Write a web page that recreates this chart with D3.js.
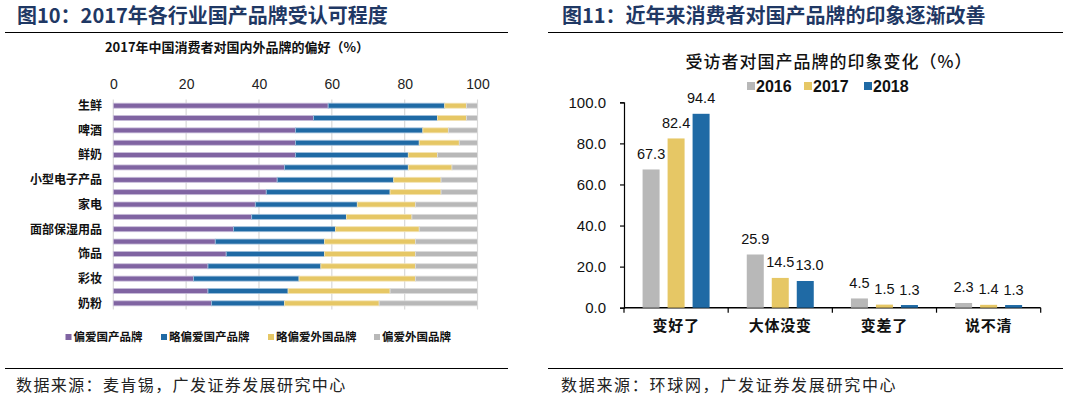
<!DOCTYPE html>
<html><head><meta charset="utf-8">
<script src="https://cdn.jsdelivr.net/npm/d3@7"></script>
<style>
body{margin:0;background:#fff;}
svg{display:block;}
</style></head>
<body>
<svg id="c" width="1069" height="397"></svg>
<script>
// ---- Left chart data ----
const rowLabels = ["生鲜","","啤酒","","鲜奶","","小型电子产品","","家电","","面部保湿用品","","饰品","","彩妆","","奶粉"];
const favorDomestic  = [59,55,50,50,50,47,45,42,39,38,33,28,31,26,22,26,27];
const slightDomestic = [32,34,35,34,31,34,32,34,28,26,28,30,27,31,29,22,20];
const slightForeign  = [6,8,7,11,8,12,13,14,16,18,23,25,25,26,32,28,26];
const favorForeign   = [3,3,8,5,11,7,10,10,17,18,16,17,17,17,17,24,27];
const leftSeriesNames = ["偏爱国产品牌","略偏爱国产品牌","略偏爱外国品牌","偏爱外国品牌"];
const leftTicks = [0,20,40,60,80,100];

// ---- Right chart data ----
const impressionCats = ["变好了","大体没变","变差了","说不清"];
const years = ["2016","2017","2018"];
const v2016 = [67.3,25.9,4.5,2.3];
const v2017 = [82.4,14.5,1.5,1.4];
const v2018 = [94.4,13.0,1.3,1.3];
const rightTicks = [0,20,40,60,80,100];

const leftColors = ["#8064A2","#1F6AA5","#E6C765","#B8B8B8"];
const leftStroke = ["#C9BEDA","#9FBEDA","#F3E3B4","#DCDCDC"];
const yearColors = ["#B8B8B8","#E6C765","#1F6AA5"];

const svg = d3.select("#c");
const CJK = "'Noto Sans CJK SC','Noto Sans',sans-serif";
const ARIAL = "'Liberation Sans',Arial,sans-serif";
const navy = "#1F3864";

// ---- Headers ----
svg.append("text").attr("x",17).attr("y",23).attr("font-family",CJK).attr("font-weight",700)
  .attr("font-size",20).attr("fill",navy).text("图10：2017年各行业国产品牌受认可程度");
svg.append("text").attr("x",562).attr("y",23).attr("font-family",CJK).attr("font-weight",700)
  .attr("font-size",20).attr("fill",navy).text("图11：近年来消费者对国产品牌的印象逐渐改善");
[[5,508],[548,1063]].forEach(([a,b])=>{
  svg.append("line").attr("x1",a).attr("x2",b).attr("y1",32.5).attr("y2",32.5).attr("stroke","#000").attr("stroke-width",1);
  svg.append("line").attr("x1",a).attr("x2",b).attr("y1",368.5).attr("y2",368.5).attr("stroke","#000").attr("stroke-width",1);
});
svg.append("text").attr("x",16).attr("y",391).attr("font-family",CJK).attr("font-size",16)
  .attr("letter-spacing",1.4).attr("fill","#222").text("数据来源：麦肯锡，广发证券发展研究中心");
svg.append("text").attr("x",561).attr("y",391).attr("font-family",CJK).attr("font-size",16)
  .attr("letter-spacing",1.7).attr("fill","#222").text("数据来源：环球网，广发证券发展研究中心");

// ---- Left chart ----
const L = svg.append("g");
L.append("text").attr("x",237).attr("y",52).attr("text-anchor","middle").attr("font-family",CJK)
  .attr("font-weight",700).attr("font-size",13).attr("fill","#111").text("2017年中国消费者对国内外品牌的偏好（%）");

const x = d3.scaleLinear().domain([0,100]).range([113.3,477.5]);
const y = d3.scaleBand().domain(d3.range(rowLabels.length)).range([99.5,309.5]);

// gridlines
L.append("g").selectAll("line").data(leftTicks).join("line")
  .attr("x1",d=>x(d)).attr("x2",d=>x(d)).attr("y1",y.range()[0]).attr("y2",y.range()[1])
  .attr("stroke","#D9D9D9").attr("stroke-width",1.2);

// top axis labels
const topAxis = d3.axisTop(x).tickValues(leftTicks).tickSize(0).tickPadding(0);
const ta = L.append("g").attr("transform","translate(0,89)").call(topAxis);
ta.select(".domain").remove();
ta.selectAll("text").attr("font-family",ARIAL).attr("font-size",14).attr("fill","#222");

// stacked bars
const rows = rowLabels.map((lab,i)=>({i, vals:[favorDomestic[i],slightDomestic[i],slightForeign[i],favorForeign[i]]}));
const keys = [0,1,2,3];
const stack = d3.stack().keys(keys).value((d,k)=>d.vals[k]);
const stacked = stack(rows);
const barH = 5;
L.append("g").selectAll("g").data(stacked).join("g")
  .attr("fill",(d,k)=>leftColors[k]).attr("stroke",(d,k)=>leftStroke[k])
  .selectAll("rect").data(d=>d).join("rect")
  .attr("x",d=>x(d[0])).attr("width",d=>x(d[1])-x(d[0]))
  .attr("y",d=>y(d.data.i)+y.bandwidth()/2-barH/2).attr("height",barH).attr("stroke-width",0.8);

// row labels
L.append("g").selectAll("text").data(rowLabels.map((t,i)=>({t,i})).filter(d=>d.t)).join("text")
  .attr("x",102).attr("y",d=>y(d.i)+y.bandwidth()/2).attr("dy","0.36em").attr("text-anchor","end")
  .attr("font-family",CJK).attr("font-weight",700).attr("font-size",12).attr("fill","#111").text(d=>d.t);

// legend
const legX = [65.5,161,268,374];
const lg = L.append("g").selectAll("g").data(leftSeriesNames).join("g")
  .attr("transform",(d,i)=>`translate(${legX[i]},337)`);
lg.append("rect").attr("x",0).attr("y",-3).attr("width",6).attr("height",6).attr("fill",(d,i)=>leftColors[i]);
lg.append("text").attr("x",8).attr("y",0).attr("dy","0.36em").attr("font-family",CJK).attr("font-weight",700)
  .attr("font-size",11.5).attr("fill","#111").text(d=>d);

// ---- Right chart ----
const R = svg.append("g");
R.append("text").attr("x",829).attr("y",68).attr("text-anchor","middle").attr("font-family",CJK)
  .attr("font-weight",500).attr("font-size",17).attr("letter-spacing",1).attr("fill","#111").text("受访者对国产品牌的印象变化（%）");

const ry = d3.scaleLinear().domain([0,100]).range([307.7,102.3]);
const rx = d3.scaleBand().domain(impressionCats).range([624,1040.7]).padding(0);
const inner = d3.scaleBand().domain(years).range([-33.5,33.5]).paddingInner(0.32).paddingOuter(0);

const yAxis = d3.axisLeft(ry).tickValues(rightTicks).tickSize(4).tickPadding(14).tickFormat(d3.format(".1f"));
const ya = R.append("g").attr("transform","translate(624,0)").call(yAxis);
ya.selectAll("text").attr("font-family",ARIAL).attr("font-size",15).attr("fill","#111");
ya.selectAll("line,path").attr("stroke","#000").attr("stroke-width",1.2);

const xAxis = d3.axisBottom(rx).tickSize(0).tickPadding(13);
const xa = R.append("g").attr("transform","translate(0,307.7)").call(xAxis);
xa.selectAll(".tick text").attr("font-family",CJK).attr("font-weight",700).attr("font-size",15)
  .attr("letter-spacing",0.8).attr("fill","#111");
xa.select(".domain").attr("stroke","#000").attr("stroke-width",1.5).attr("d",`M624,0H1040.7`);
xa.append("g").selectAll("line").data(d3.range(impressionCats.length+1)).join("line")
  .attr("x1",i=>624+i*rx.step()).attr("x2",i=>624+i*rx.step()).attr("y1",0).attr("y2",5)
  .attr("stroke","#000").attr("stroke-width",1.2);

const series = [v2016,v2017,v2018];
const barData = [];
impressionCats.forEach((c,ci)=>years.forEach((yr,yi)=>barData.push({c,yr,yi,v:series[yi][ci]})));
const gcx = c=>rx(c)+rx.bandwidth()/2;
R.append("g").selectAll("rect").data(barData).join("rect")
  .attr("x",d=>gcx(d.c)+inner(d.yr)).attr("width",inner.bandwidth())
  .attr("y",d=>ry(d.v)).attr("height",d=>ry(0)-ry(d.v)).attr("fill",d=>yearColors[d.yi]);
const labels = R.append("g").selectAll("text").data(barData).join("text")
  .attr("x",d=>gcx(d.c)+inner(d.yr)+inner.bandwidth()/2).attr("y",d=>ry(d.v)-10.5)
  .attr("text-anchor","middle").attr("font-family",ARIAL).attr("font-size",14.5).attr("fill","#111")
  .text(d=>d3.format(".1f")(d.v));
// nudge labels right when they would collide with the previous label at a similar height
let prev = null;
labels.each(function(d){
  const b = this.getBBox();
  if (prev && prev.c === d.c && Math.abs(prev.y - b.y) < b.height && b.x < prev.x2 + 1) {
    const shift = prev.x2 + 1 - b.x;
    d3.select(this).attr("x", +d3.select(this).attr("x") + shift);
    b.x += shift;
  }
  prev = {c:d.c, x2:b.x+b.width, y:b.y};
});

// right legend
const rlegX = [747,804,864];
const rl = R.append("g").selectAll("g").data(years).join("g").attr("transform",(d,i)=>`translate(${rlegX[i]},86)`);
rl.append("rect").attr("x",0).attr("y",-4).attr("width",8).attr("height",8).attr("fill",(d,i)=>yearColors[i]);
rl.append("text").attr("x",9).attr("y",0).attr("dy","0.36em").attr("font-family",ARIAL).attr("font-weight",700)
  .attr("font-size",16).attr("fill","#111").text(d=>d);
</script>
</body></html>
